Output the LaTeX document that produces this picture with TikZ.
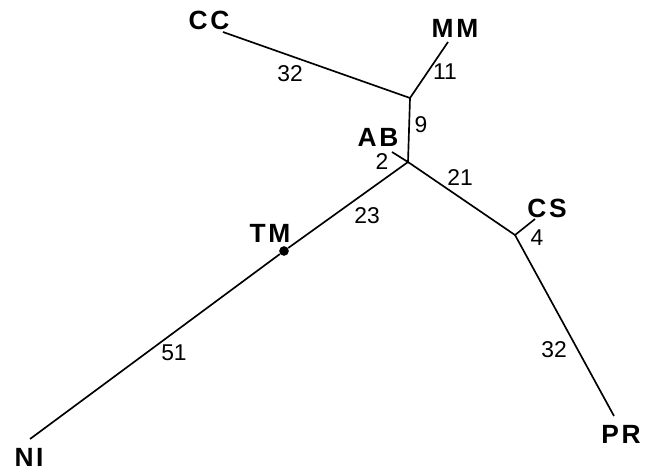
\documentclass[tikz,border=0pt]{standalone}
\usepackage{fontspec}
\setsansfont{Liberation Sans}
\newfontfamily\taxonfont[LetterSpace=10]{Liberation Sans}
\usetikzlibrary{positioning}
\tikzset{
  branch/.style={line width=0.95pt},
  taxon/.style={font=\taxonfont\bfseries\fontsize{15}{17}\selectfont,inner sep=0},
  len/.style={font=\sffamily\fontsize{13}{15}\selectfont,inner sep=0},
  tip/.style={circle,fill=black,minimum size=5.5pt,inner sep=0},
}
\begin{document}
\begin{tikzpicture}[x=0.02cm,y=-0.02cm]
  \useasboundingbox (0,0) rectangle (651,471);
  % inner forks of the tree
  \coordinate (fork1) at (410,98);
  \coordinate (fork2) at (408,162);
  \coordinate (forkcs) at (515,235);
  % free ends of the branches
  \coordinate (endcc) at (223,32);
  \coordinate (endmm) at (448,42);
  \coordinate (endab) at (392,152);
  \coordinate (endcs) at (535,219);
  \coordinate (endpr) at (614,416);
  \coordinate (endni) at (30,439);
  \node[tip] (tm) at (284,251) {};
  % branches
  \draw[branch] (endcc) -- (fork1) -- (endmm);
  \draw[branch] (fork1) -- (fork2) -- (endab);
  \draw[branch] (fork2) -- (forkcs) -- (endcs);
  \draw[branch] (forkcs) -- (endpr);
  \draw[branch] (fork2) -- (tm) -- (endni);
  % taxon names
  \node[taxon] (lcc) at (209,20) {CC};
  \node[taxon] (lmm) at (455,28) {MM};
  \node[taxon] (lab) at (378,137) {AB};
  \node[taxon] (lcs) at (547,208) {CS};
  \node[taxon] (ltm) at (270,233) {TM};
  \node[taxon] (lpr) at (621,434) {PR};
  \node[taxon] (lni) at (29,457) {NI};
  % branch lengths
  \node[len] (ncc) at (290,74) {32};
  \node[len] (nmm) at (445,72) {11};
  \node[len] (nab1) at (421,125) {9};
  \node[len] (nab2) at (382,162) {2};
  \node[len] (ncs1) at (460,178) {21};
  \node[len] (ncs2) at (537,238) {4};
  \node[len] (npr) at (554,350) {32};
  \node[len] (ntm) at (367,216) {23};
  \node[len] (nni) at (174,353) {51};
\end{tikzpicture}
\end{document}
